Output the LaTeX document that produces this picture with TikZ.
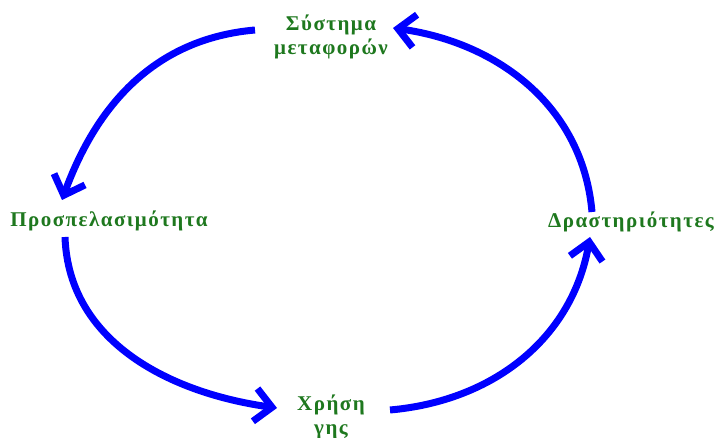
\documentclass[tikz,border=0pt]{standalone}
\usepackage{fontspec}
\setmainfont[LetterSpace=7]{Liberation Serif}
\usetikzlibrary{arrows.meta,calc}
\definecolor{labelgreen}{RGB}{30,120,30}

\begin{document}
\begin{tikzpicture}[x=1pt, y=1pt, every node/.style={font=\fontsize{21}{24}\selectfont\bfseries, text=labelgreen, align=center, inner sep=0pt},
	cycarrow/.style={draw=blue, line width=7pt, -{Straight Barb[length=17pt,width=33pt]}}]
	\useasboundingbox (0,0) rectangle (717,438);
	\node (sys) at (331,401) {Σύστημα\\μεταφορών};
	\node (acc) at (109,217) {Προσπελασιμότητα};
	\node (act) at (631,216) {Δραστηριότητες};
	\node (land) at (331,21) {Χρήση\\γης};
	% the cycle
	\draw[cycarrow] ([shift={(-76,7)}]sys.center) to[out=185,in=70] ([shift={(-47,21)}]acc.center);
	\draw[cycarrow] ([shift={(-44,-16)}]acc.center) to[out=-88,in=172] ([shift={(-54,9)}]land.center);
	\draw[cycarrow] ([shift={(59,7)}]land.center) to[out=5,in=-100] ([shift={(-41,-15)}]act.center);
	\draw[cycarrow] ([shift={(-39,10)}]act.center) to[out=95,in=-8] ([shift={(62,9)}]sys.center);
\end{tikzpicture}
\end{document}
